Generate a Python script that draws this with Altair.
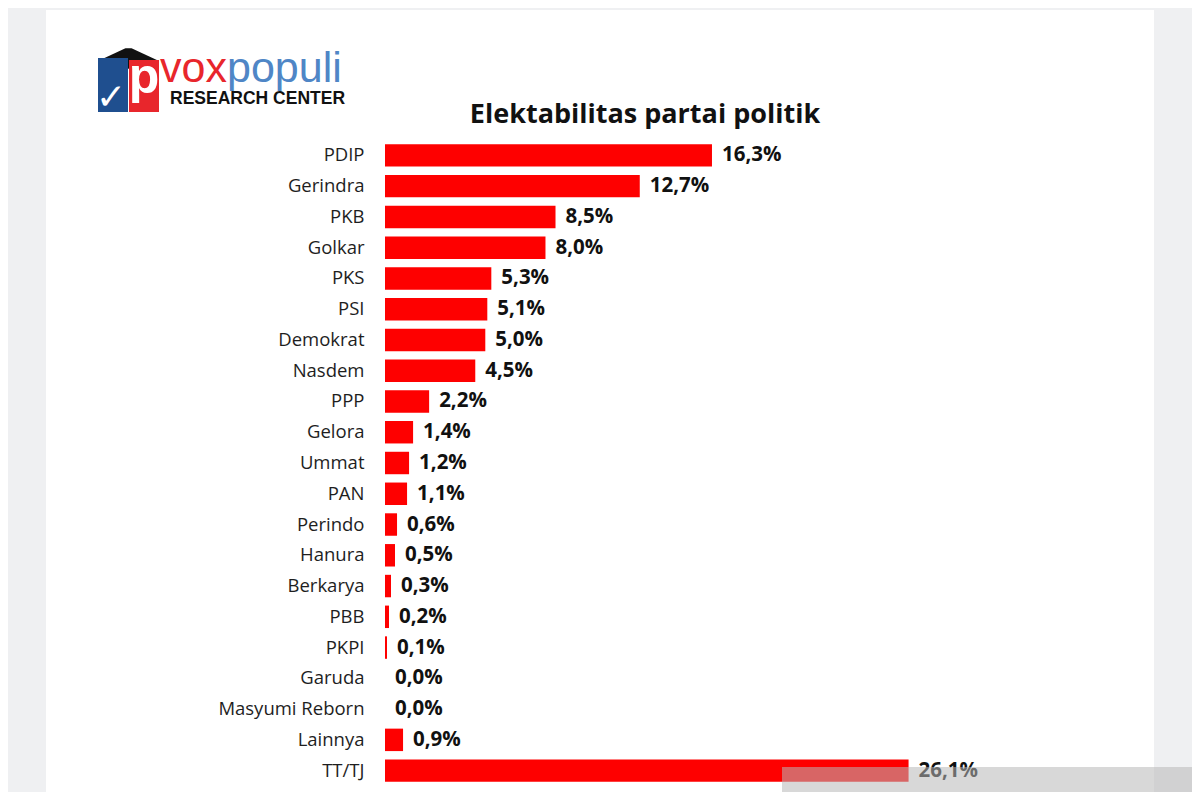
import altair as alt
import pandas as pd

parties = ["PDIP", "Gerindra", "PKB", "Golkar", "PKS", "PSI", "Demokrat", "Nasdem",
           "PPP", "Gelora", "Ummat", "PAN", "Perindo", "Hanura", "Berkarya", "PBB",
           "PKPI", "Garuda", "Masyumi Reborn", "Lainnya", "TT/TJ"]
values = [16.3, 12.7, 8.5, 8.0, 5.3, 5.1, 5.0, 4.5, 2.2, 1.4, 1.2, 1.1, 0.6, 0.5,
          0.3, 0.2, 0.1, 0.0, 0.0, 0.9, 26.1]
labels = [f"{v:.1f}%".replace(".", ",") for v in values]

title_text = "Elektabilitas partai politik"

df = pd.DataFrame({"party": parties, "value": values, "label": labels})

W, H = 700, 646
x_scale = alt.Scale(domain=[0, W / 20.06], nice=False, zero=True)
y_enc = alt.Y("party:N", sort=parties,
              scale=alt.Scale(paddingInner=0.27, paddingOuter=0.135),
              axis=alt.Axis(title=None, ticks=False, domain=False, grid=False,
                            labelFont="Open Sans", labelFontSize=18.5, zindex=2,
                            labelColor="#1e1e1e", labelPadding=21))


def one(**kw):
    return alt.Chart(pd.DataFrame([kw]))


# card background
card = one(a=0).mark_rect(color="white").encode(
    x=alt.value(-339), x2=alt.value(769), y=alt.value(-130), y2=alt.value(660))

# logo
roof = one(a=0).mark_point(shape="M-1,0.1L-0.1,-0.32L0.1,-0.32L1,0.1L0,0.35Z", filled=True,
                           color="#111111", opacity=1, size=3721).encode(
    x=alt.value(-256.5), y=alt.value(-82))
blue = one(a=0).mark_rect(color="#1f4f8f").encode(
    x=alt.value(-287), x2=alt.value(-257), y=alt.value(-82), y2=alt.value(-28))
red = one(a=0).mark_rect(color="#e8262c").encode(
    x=alt.value(-256), x2=alt.value(-226), y=alt.value(-80), y2=alt.value(-28))
check = one(t="✓").mark_text(font="DejaVu Sans", fontSize=36, fontWeight="bold",
                             color="white", align="center", baseline="alphabetic").encode(
    x=alt.value(-274), y=alt.value(-31), text="t:N")
pchar = one(t="p").mark_text(font="Liberation Sans", fontSize=50, fontWeight="bold",
                             color="white", align="center", baseline="alphabetic").encode(
    x=alt.value(-241), y=alt.value(-47), text="t:N")
vox = one(t="vox").mark_text(font="Liberation Sans", fontSize=43, color="#e8262c",
                             align="left", baseline="alphabetic").encode(
    x=alt.value(-225), y=alt.value(-58), text="t:N")
populi = one(t="populi").mark_text(font="Liberation Sans", fontSize=43, color="#4f86c6",
                                   align="left", baseline="alphabetic").encode(
    x=alt.value(-158), y=alt.value(-58), text="t:N")
research = one(t="RESEARCH CENTER").mark_text(font="Liberation Sans", fontSize=17.5,
                                              fontWeight="bold", color="#111111",
                                              align="left", baseline="alphabetic").encode(
    x=alt.value(-215), y=alt.value(-36), text="t:N")

title = one(t=title_text).mark_text(font="Open Sans", fontSize=27, fontWeight="bold",
                                    color="#111111", align="center",
                                    baseline="alphabetic").encode(
    x=alt.value(260), y=alt.value(-17), text="t:N")

# watermark strip
wm = one(a=0).mark_rect(color="#b8b8b8", opacity=0.55).encode(
    x=alt.value(397), x2=alt.value(820), y=alt.value(627), y2=alt.value(700))

bars = alt.Chart(df).mark_bar(color="#fe0000").encode(
    x=alt.X("value:Q", scale=x_scale, axis=None),
    y=y_enc,
)
text = alt.Chart(df).mark_text(align="left", baseline="middle", dx=10, font="Open Sans",
                               fontSize=20.5, fontWeight="bold", color="#111111").encode(
    x=alt.X("value:Q", scale=x_scale, axis=None),
    y=alt.Y("party:N", sort=parties),
    text="label:N",
)

chart = alt.layer(card, roof, blue, red, check, pchar, vox, populi, research, title,
                  bars, text, wm).properties(
    width=W, height=H,
    autosize=alt.AutoSizeParams(type="none"),
    padding={"left": 377, "top": 132, "right": 107, "bottom": 6},
    background="#eff0f2",
).configure_view(stroke=None, clip=False)

chart.save("out.html", embed_options={"renderer": "svg", "actions": False})
